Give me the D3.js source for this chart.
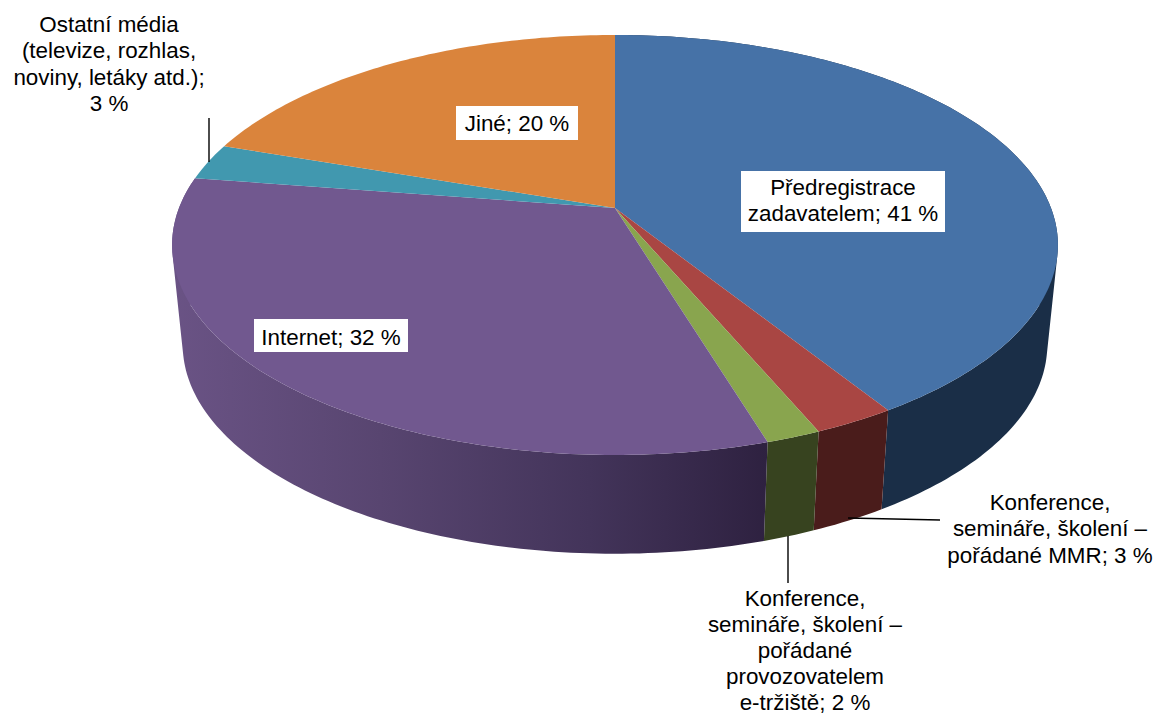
<!DOCTYPE html>
<html><head><meta charset="utf-8">
<script src="https://d3js.org/d3.v7.min.js"></script>
<style>html,body{margin:0;padding:0;background:#fff;overflow:hidden}svg{display:block}text{font-family:"Liberation Sans",Arial,sans-serif;font-size:22.4px;fill:#000}</style>
</head><body><div id="c"></div>
<script>
const categories = ["Předregistrace zadavatelem","Konference, semináře, školení – pořádané MMR","Konference, semináře, školení – pořádané provozovatelem e-tržiště","Internet","Ostatní média (televize, rozhlas, noviny, letáky atd.)","Jiné"];
const shares = [41.05, 2.55, 1.7, 32.1, 2.8, 19.8];
const labelLines = [
  ["Předregistrace","zadavatelem; 41 %"],
  ["Konference,","semináře, školení –","pořádané MMR; 3 %"],
  ["Konference,","semináře, školení –","pořádané","provozovatelem","e-tržiště; 2 %"],
  ["Internet; 32 %"],
  ["Ostatní média","(televize, rozhlas,","noviny, letáky atd.);","3 %"],
  ["Jiné; 20 %"]
];
const topColors = ["#4672a7","#a94643","#89a54e","#71588f","#4198af","#da843c"];
const sideColors = ["#1a2e47","#4a1c1b","#37431f",null,null,null];

const W=1162,H=715;
const svg=d3.select("#c").append("svg").attr("width",W).attr("height",H);
const defs=svg.append("defs");

// perspective projection of the unit disc
const cx=615, apexY=208, B=436, A=203.5, k=0.176;
function proj(t){const u=Math.sin(t),v=-Math.cos(t),d=1-k*v;return [B*u/d,A*v/d];}
const topPt=t=>{const p=proj(t);return [cx+p[0],apexY+p[1]];};
const botPt=t=>{const p=proj(t);return [cx+0.976*p[0],308+0.995*p[1]];};
const samples=(a,b)=>d3.range(0,1.0001,1/Math.max(8,Math.ceil((b-a)*60))).map(f=>a+(b-a)*f);
const line=d3.line();

const arcs=d3.pie().sort(null).value(d=>d)(shares);

// purple side gradient
const grad=defs.append("linearGradient").attr("id","sidePurple").attr("gradientUnits","userSpaceOnUse")
  .attr("x1",172).attr("x2",768).attr("y1",0).attr("y2",0);
[[0,"#6a5385"],[0.35,"#584570"],[0.7,"#43345a"],[1,"#2e2140"]].forEach(s=>grad.append("stop").attr("offset",s[0]).attr("stop-color",s[1]));
sideColors[3]="url(#sidePurple)";

// sides: union of the quads swept between the top and bottom rims (near-facing slices)
function sidePath(d){
  const ts=samples(d.startAngle,d.endAngle);
  return d3.pairs(ts).map(([a,b])=>line(d3.polygonHull([topPt(a),topPt(b),botPt(b),botPt(a)]))+"Z").join("");
}
svg.append("g").selectAll("path").data(arcs.slice(0,4)).join("path")
  .attr("d",sidePath).attr("fill",(d,i)=>sideColors[i]);

// top faces
svg.append("g").selectAll("path").data(arcs).join("path")
  .attr("d",d=>line([[cx,apexY],...samples(d.startAngle,d.endAngle).map(topPt)])+"Z")
  .attr("fill",(d,i)=>topColors[i]);

// leader lines
const leaders=[[[209,118],[209,162]],[[848,518],[940,520]],[[788,536],[788,583]]];
svg.append("g").selectAll("path").data(leaders).join("path")
  .attr("d",d=>line(d)).attr("stroke","#000").attr("stroke-width",1.4).attr("fill","none");

// labels
const layout=[
 {x:843,y:195,lh:26.4,box:[741,171,204,61]},
 {x:1050,y:510,lh:26.4},
 {x:805,y:606,lh:26},
 {x:331,y:345,lh:26.4,box:[254,319,154,33]},
 {x:109,y:32,lh:26.4},
 {x:517,y:131,lh:26.4,box:[456,106,122,34]}
];
const g=svg.append("g");
labelLines.forEach((lines,i)=>{
  const L=layout[i];
  if(L.box) g.append("rect").attr("x",L.box[0]).attr("y",L.box[1]).attr("width",L.box[2]).attr("height",L.box[3]).attr("fill","#fff");
  const t=g.append("text").attr("text-anchor","middle");
  lines.forEach((s,j)=>t.append("tspan").attr("x",L.x).attr("y",L.y+j*L.lh).text(s));
});
</script></body></html>
